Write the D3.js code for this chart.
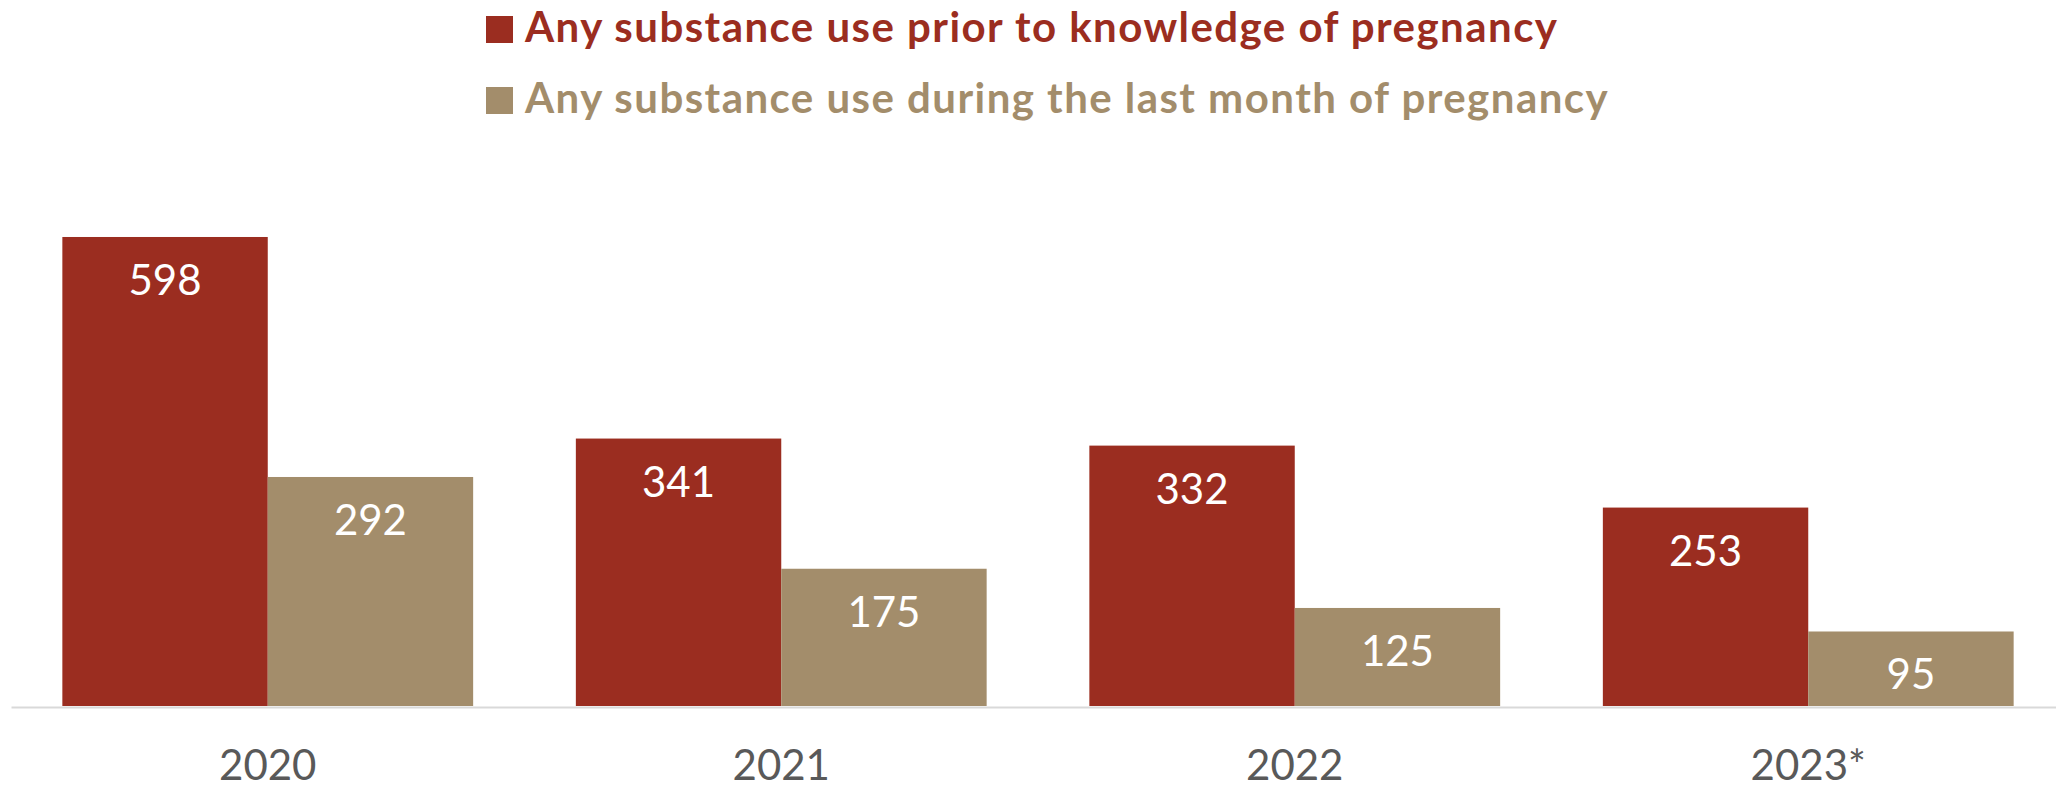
<!DOCTYPE html>
<html>
<head>
<meta charset="utf-8">
<script src="https://cdn.jsdelivr.net/npm/d3@7"></script>
<style>
  html, body { margin: 0; padding: 0; background: #ffffff; }
  svg { display: block; }
  text { font-family: Lato, "Open Sans", sans-serif; }
</style>
</head>
<body>
<div id="chart"></div>
<script>
const categories = ["2020", "2021", "2022", "2023*"];
const seriesNames = [
  "Any substance use prior to knowledge of pregnancy",
  "Any substance use during the last month of pregnancy"
];
const priorValues = [598, 341, 332, 253];
const lastMonthValues = [292, 175, 125, 95];
const seriesColors = ["#9B2D20", "#A38D6B"];

const W = 2056, H = 788;
const svg = d3.select("#chart").append("svg").attr("width", W).attr("height", H);

const baseline = 706;
const x = d3.scaleBand().domain(categories).range([11, 2065]).paddingInner(0.2).paddingOuter(0.1);
const xs = d3.scaleBand().domain([0, 1]).range([0, x.bandwidth()]);
const y = d3.scaleLinear().domain([0, 700]).range([baseline, baseline - 700 * 0.7843]);

const series = [priorValues, lastMonthValues];

series.forEach((vals, si) => {
  const g = svg.append("g");
  g.selectAll("rect").data(vals).join("rect")
    .attr("x", (d, i) => x(categories[i]) + xs(si))
    .attr("y", d => y(d))
    .attr("width", xs.bandwidth())
    .attr("height", d => y(0) - y(d))
    .attr("fill", seriesColors[si]);
  g.selectAll("text").data(vals).join("text")
    .attr("x", (d, i) => x(categories[i]) + xs(si) + xs.bandwidth() / 2)
    .attr("y", d => y(d) + 58)
    .attr("text-anchor", "middle")
    .attr("fill", "#ffffff")
    .attr("font-size", 42)
    .text(d => d);
});

// axis line
const xAxis = d3.axisBottom(x).tickSize(0).tickPadding(0);
const ax = svg.append("g").attr("transform", `translate(0,${baseline + 1})`).call(xAxis);
ax.select(".domain").attr("stroke", "#D9D9D9").attr("stroke-width", 2);
ax.selectAll("text")
  .attr("font-family", "Lato, sans-serif")
  .attr("font-size", 42)
  .attr("fill", "#595959")
  .attr("dy", null)
  .attr("y", 73);

// legend
const legend = svg.append("g");
seriesNames.forEach((name, i) => {
  const gy = 16 + i * 71;
  legend.append("rect")
    .attr("x", 486).attr("y", gy).attr("width", 27).attr("height", 27)
    .attr("fill", seriesColors[i]);
  legend.append("text")
    .attr("x", 525).attr("y", gy + 26)
    .attr("font-size", 42)
    .attr("letter-spacing", 1.45)
    .attr("font-weight", "bold")
    .attr("fill", seriesColors[i])
    .text(name);
});
</script>
</body>
</html>
